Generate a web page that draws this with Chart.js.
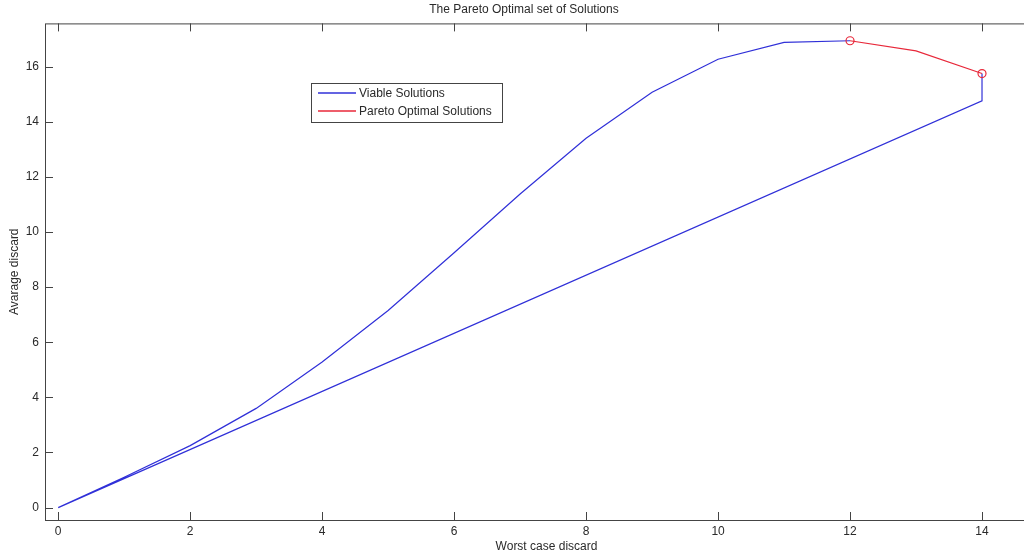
<!DOCTYPE html>
<html>
<head>
<meta charset="utf-8">
<script src="https://cdn.jsdelivr.net/npm/chart.js@4.4.1/dist/chart.umd.min.js"></script>
<style>
  html, body { margin: 0; padding: 0; background: #fff; overflow: hidden; }
  #wrap { width: 1092px; height: 558px; }
</style>
</head>
<body>
<div id="wrap"><canvas id="chart" width="1092" height="558"></canvas></div>
<script>
// Data (null = gap, the red line covers that stretch)
const viableX = [0, 1, 2, 3, 4, 5, 6, 7, 8, 9, 10, 11, 12, 13, 14, 14, 0];
const viableY = [0, 1.1, 2.25, 3.6, 5.28, 7.15, 9.25, 11.38, 13.4, 15.07, 16.27, 16.88, 16.94, null, 15.75, 14.76, 0];

const paretoX = [12, 13, 14];
const paretoY = [16.94, 16.57, 15.75];

const paretoPointX = [12, 14];
const paretoPointY = [16.94, 15.75];

const xTickValues = [0, 2, 4, 6, 8, 10, 12, 14];
const yTickValues = [0, 2, 4, 6, 8, 10, 12, 14, 16];

const legendLabels = ['Viable Solutions', 'Pareto Optimal Solutions'];

const BLUE = '#3030d8';
const RED = '#e8283a';
const AXIS = '#444444';
const TEXT = '#2a2a2a';
const FONT = 'Liberation Sans, Arial, sans-serif';
const legendColors = [BLUE, RED];

function toPoints(xs, ys) {
    return xs.map((x, i) => ({ x: x, y: ys[i] }));
}

// Box round the axes with inward tick marks on all four sides
const boxPlugin = {
    id: 'matlabBox',
    afterDraw(chart) {
        const { ctx, chartArea: a, scales } = chart;
        ctx.save();
        ctx.strokeStyle = AXIS;
        ctx.lineWidth = 1;
        ctx.strokeRect(a.left + 0.5, a.top + 0.5, a.right - a.left, a.bottom - a.top);
        const len = 8;
        ctx.beginPath();
        xTickValues.forEach(v => {
            const px = Math.round(scales.x.getPixelForValue(v)) + 0.5;
            ctx.moveTo(px, a.bottom); ctx.lineTo(px, a.bottom - len);
            ctx.moveTo(px, a.top); ctx.lineTo(px, a.top + len);
        });
        yTickValues.forEach(v => {
            const py = Math.round(scales.y.getPixelForValue(v)) + 0.5;
            ctx.moveTo(a.left, py); ctx.lineTo(a.left + len, py);
            ctx.moveTo(a.right, py); ctx.lineTo(a.right - len, py);
        });
        ctx.stroke();
        ctx.restore();
    }
};

// Legend box placed inside the axes like MATLAB's
const legendPlugin = {
    id: 'matlabLegend',
    afterDraw(chart) {
        const c = chart.ctx;
        const left = 311, top = 83, w = 191, h = 39;
        c.save();
        c.fillStyle = '#ffffff';
        c.fillRect(left, top, w, h);
        c.strokeStyle = AXIS;
        c.lineWidth = 1;
        c.strokeRect(left + 0.5, top + 0.5, w, h);
        c.font = '12px ' + FONT;
        c.textBaseline = 'middle';
        c.textAlign = 'left';
        legendLabels.forEach((label, i) => {
            const y = top + 10 + i * 18;
            c.strokeStyle = legendColors[i];
            c.lineWidth = 1.3;
            c.beginPath();
            c.moveTo(left + 7, y);
            c.lineTo(left + 45, y);
            c.stroke();
            c.fillStyle = TEXT;
            c.fillText(label, left + 48, y + 0.5);
        });
        c.restore();
    }
};

new Chart(document.getElementById('chart'), {
    type: 'scatter',
    data: {
        datasets: [
            {
                label: legendLabels[0],
                data: toPoints(viableX, viableY),
                showLine: true,
                spanGaps: false,
                borderColor: BLUE,
                borderWidth: 1.2,
                pointRadius: 0,
                tension: 0,
                order: 3
            },
            {
                label: legendLabels[1],
                data: toPoints(paretoX, paretoY),
                showLine: true,
                borderColor: RED,
                borderWidth: 1.2,
                pointRadius: 0,
                tension: 0,
                order: 2
            },
            {
                label: 'Pareto points',
                data: toPoints(paretoPointX, paretoPointY),
                showLine: false,
                pointStyle: 'circle',
                pointRadius: 4,
                pointBorderWidth: 1.2,
                pointBorderColor: RED,
                pointBackgroundColor: 'rgba(0,0,0,0)',
                order: 1
            }
        ]
    },
    options: {
        responsive: false,
        animation: false,
        devicePixelRatio: 1,
        layout: { padding: { top: 0, right: 44, bottom: 0, left: 0 } },
        plugins: {
            legend: { display: false },
            tooltip: { enabled: false },
            title: {
                display: true,
                text: 'The Pareto Optimal set of Solutions',
                color: TEXT,
                font: { family: FONT, size: 12, weight: 'normal' },
                padding: { top: 2, bottom: 7 }
            }
        },
        scales: {
            x: {
                type: 'linear',
                min: -0.2,
                max: 15,
                grid: { display: false, drawTicks: false },
                border: { display: false },
                afterBuildTicks: s => { s.ticks = xTickValues.map(v => ({ value: v })); },
                afterFit: s => { s.height = 38; },
                ticks: {
                    color: TEXT,
                    padding: 4,
                    maxRotation: 0,
                    font: { family: FONT, size: 12 }
                },
                title: {
                    display: true,
                    text: 'Worst case discard',
                    color: TEXT,
                    font: { family: FONT, size: 12 },
                    padding: { top: 0, bottom: 4 }
                }
            },
            y: {
                type: 'linear',
                min: -0.45,
                max: 17.57,
                grid: { display: false, drawTicks: false },
                border: { display: false },
                afterBuildTicks: s => { s.ticks = yTickValues.map(v => ({ value: v })); },
                afterFit: s => { s.width = 45; },
                ticks: {
                    color: TEXT,
                    padding: 6,
                    font: { family: FONT, size: 12 }
                },
                title: {
                    display: true,
                    text: 'Avarage discard',
                    color: TEXT,
                    font: { family: FONT, size: 12 },
                    padding: { top: 7, bottom: 0 }
                }
            }
        }
    },
    plugins: [boxPlugin, legendPlugin]
});
</script>
</body>
</html>
